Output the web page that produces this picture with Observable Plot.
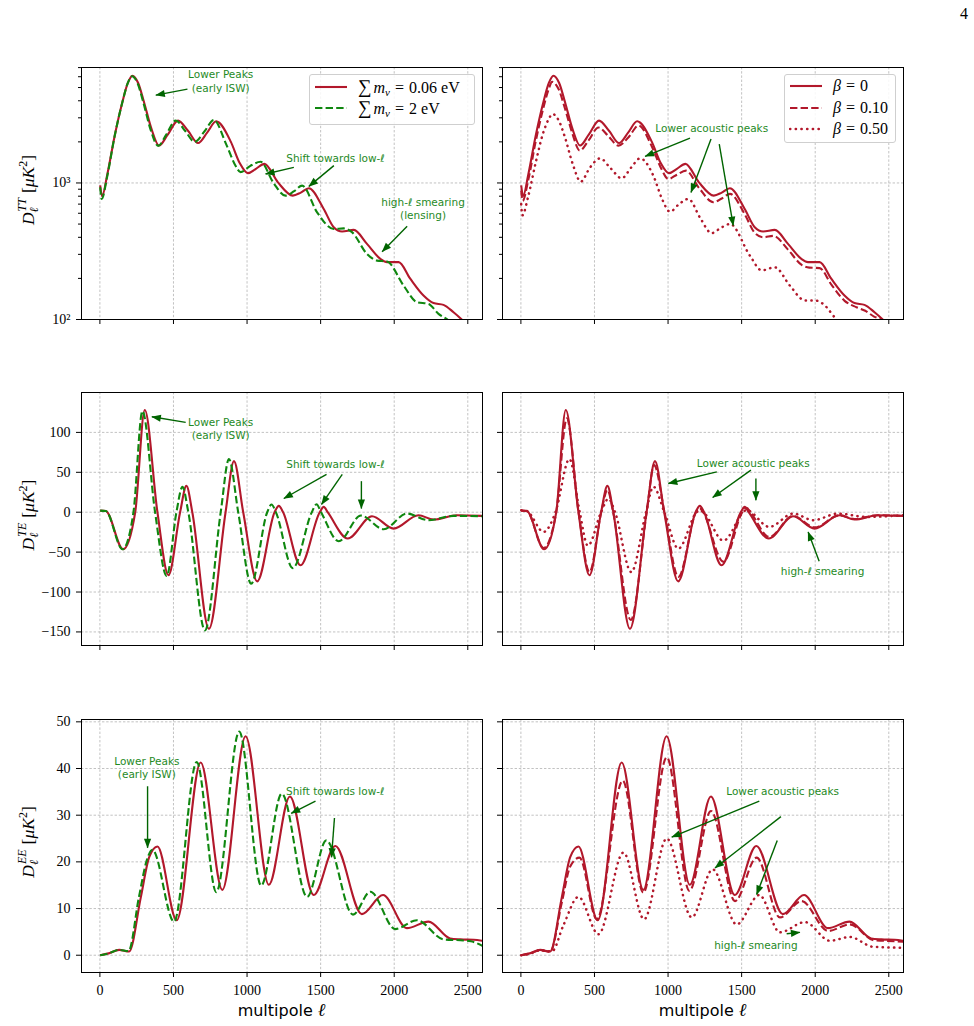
<!DOCTYPE html>
<html>
<head>
<meta charset="utf-8">
<script src="https://cdn.jsdelivr.net/npm/d3@7"></script>
<script src="https://cdn.jsdelivr.net/npm/@observablehq/plot@0.6"></script>
<style>
  body { margin: 0; background: #fff; }
  #page { position: relative; width: 974px; height: 1026px; background: #fff; overflow: hidden; }
  .panel { position: absolute; }
  .legend { position: absolute; box-sizing: border-box; background: rgba(255,255,255,0.85);
            border: 1px solid #cfcfcf; border-radius: 3px;
            font-family: "Liberation Serif", "DejaVu Serif", serif; font-size: 16px; color: #000; }
  .legend .row { position: absolute; left: 4px; height: 18px; display: flex; align-items: center; white-space: nowrap; }
  .legend sub { font-size: 11px; vertical-align: -3px; }
  .legend .sum { font-size: 19px; margin-right: 2px; }
  .legend .eq { margin: 0 5px; }
  .pageno { position: absolute; right: 6px; top: 5px; font-family: "Liberation Serif", serif; font-size: 16px; }
</style>
</head>
<body>
<div id="page"><div class="pageno">4</div></div>
<script>
// ---------------- temperature spectrum D_ell^TT [muK^2] ----------------
const ttEllBase = [2, 15, 50, 100, 150, 190, 221, 260, 300, 350, 402, 460, 531, 600, 667, 730, 790, 890, 950, 1006, 1060, 1118, 1210, 1311, 1365, 1420, 1521, 1589, 1646, 1725, 1815, 1906, 1951, 2030, 2109, 2199, 2267, 2335, 2403, 2459, 2520, 2600];
const ttBase    = [960, 800, 1150, 2200, 3800, 5400, 6100, 5400, 3900, 2500, 1880, 2250, 2860, 2400, 1960, 2350, 2830, 2000, 1400, 1180, 1270, 1380, 1010, 808, 850, 915, 645, 474, 441, 453, 358, 278, 263, 263, 199, 150, 132, 128, 113, 100, 86, 75];

const ttEllHeavy = [2, 12, 50, 100, 150, 190, 218, 255, 295, 345, 396, 450, 515, 580, 644, 710, 775, 860, 920, 956, 1020, 1092, 1180, 1261, 1320, 1374, 1476, 1589, 1657, 1713, 1815, 1883, 1951, 2064, 2154, 2233, 2301, 2362, 2430, 2500];
const ttHeavy    = [930, 765, 1120, 2200, 3800, 5400, 6050, 5400, 3900, 2450, 1870, 2250, 2870, 2400, 2000, 2380, 2890, 1900, 1350, 1200, 1330, 1430, 1000, 808, 870, 956, 610, 460, 465, 436, 302, 270, 266, 177, 134, 130, 110, 100, 87, 78];

const ttEllB10 = [2, 12, 50, 100, 150, 190, 212, 255, 300, 350, 400, 460, 527, 595, 663, 730, 799, 890, 950, 1002, 1060, 1122, 1210, 1308, 1365, 1421, 1521, 1590, 1647, 1715, 1815, 1910, 1960, 2030, 2110, 2200, 2280, 2340, 2400, 2450, 2520, 2600];
const ttB10    = [880, 740, 1050, 2000, 3450, 4900, 5500, 4900, 3500, 2300, 1725, 2050, 2550, 2200, 1876, 2150, 2630, 1850, 1300, 1070, 1150, 1231, 920, 723, 770, 832, 590, 430, 400, 410, 325, 250, 240, 238, 180, 137, 123, 116, 105, 100, 87, 76];

const ttEllB50 = [2, 10, 50, 100, 150, 190, 215, 255, 300, 350, 407, 470, 538, 610, 685, 750, 810, 900, 960, 1013, 1075, 1138, 1220, 1296, 1360, 1421, 1556, 1636, 1726, 1828, 1930, 1998, 2054, 2145, 2200, 2300];
const ttB50    = [700, 580, 800, 1400, 2300, 2950, 3200, 2900, 2150, 1400, 1023, 1300, 1515, 1280, 1082, 1300, 1515, 1131, 760, 616, 700, 764, 550, 429, 470, 501, 294, 229, 241, 177, 138, 138, 130, 100, 88, 75];

// ---------------- cross spectrum D_ell^TE [muK^2] ----------------
const teEllBase = [2, 40, 158, 240, 305, 391, 466, 545, 588, 628, 741, 854, 911, 974, 1069, 1187, 1216, 1245, 1363, 1494, 1521, 1548, 1684, 1849, 1996, 2165, 2267, 2425, 2600];
const teBase    = [2, 1.5, -46.4, 0, 128, 0, -79, 0, 33, 0, -146, 0, 64, 0, -86.6, 0, 8, 0, -66.5, 0, 6.7, 0, -33, -5, -20.5, -3.8, -9.2, -3.8, -4.6];

const teEllHeavy = [2, 40, 154, 228, 289, 375, 454, 520, 561, 601, 714, 821, 877, 940, 1028, 1137, 1166, 1196, 1311, 1440, 1472, 1503, 1623, 1774, 1928, 2086, 2233, 2403, 2600];
const teHeavy    = [2, 1.5, -46.4, 0, 126.8, 0, -80, 0, 31.8, 0, -148, 0, 66.5, 0, -89.5, 0, 9.6, 0, -70, 0, 10, 0, -36.4, -4.2, -21.3, -1.7, -10, -4.6, -5];

const teEllB10 = [2, 40, 154, 240, 312, 392, 466, 546, 588, 627, 747, 855, 905, 976, 1070, 1190, 1213, 1238, 1376, 1505, 1534, 1560, 1688, 1849, 1996, 2165, 2267, 2425, 2600];
const teB10    = [2, 1.5, -44.8, 0, 117.6, 0, -75, 0, 28, 0, -135, 0, 59, 0, -81, 0, 5.4, 0, -62, 0, 5.4, 0, -31, -4.5, -19, -3.8, -8.5, -3.8, -4.6];

const teEllB50 = [2, 40, 154, 235, 330, 400, 455, 545, 595, 640, 750, 850, 900, 975, 1070, 1195, 1217, 1240, 1376, 1534, 1688, 1851, 1986, 2156, 2348, 2597];
const teB50    = [2.5, 1.5, -24.7, 0, 66.5, 0, -42, 0, 17, 0, -75, 0, 32, 0, -45.6, 0, 2.5, 0, -35.6, 2.5, -18.4, -1.7, -10, -1.7, -5.9, -3.8];

// ---------------- polarisation spectrum D_ell^EE [muK^2] ----------------
const eeEllBase = [2, 60, 131, 199, 278, 335, 391, 522, 685, 832, 990, 1148, 1291, 1453, 1600, 1780, 1924, 2086, 2233, 2380, 2450, 2540, 2600];
const eeBase    = [0, 0.4, 1.15, 0.8, 12.4, 21, 23.3, 7.5, 41.3, 14, 46.9, 15.1, 34, 12.9, 23.4, 8.8, 12.9, 5.8, 7.2, 3.6, 3.4, 3.3, 3.1];

const eeEllHeavy = [2, 60, 131, 195, 265, 320, 357, 504, 658, 791, 947, 1096, 1236, 1408, 1539, 1720, 1838, 2007, 2154, 2335, 2450, 2520, 2600];
const eeHeavy    = [0, 0.4, 1.15, 0.9, 12.4, 20.5, 22.6, 7.2, 41.4, 13.5, 47.9, 14.9, 34.6, 12.5, 24.6, 8.7, 13.6, 5.6, 7.5, 3.4, 3.2, 3.0, 2.0];

const eeEllB10 = [2, 60, 131, 199, 278, 335, 398, 516, 692, 832, 991, 1145, 1292, 1455, 1602, 1760, 1907, 2088, 2235, 2400, 2461, 2600];
const eeB10    = [0, 0.35, 1.05, 0.75, 11.3, 19, 20.9, 7.7, 37.4, 13.4, 42.4, 13.8, 30.9, 11.6, 20.9, 8.1, 11.6, 5.2, 6.6, 3.2, 3.1, 2.9];

const eeEllB50 = [2, 60, 131, 210, 290, 391, 527, 697, 837, 991, 1161, 1303, 1466, 1620, 1760, 1930, 2100, 2235, 2394, 2597];
const eeB50    = [0, 0.3, 1.07, 0.8, 6.5, 12.5, 4.5, 22, 7.7, 25, 8.1, 18.4, 6.6, 12.9, 4.9, 7.1, 3.1, 3.9, 1.8, 1.6];

// ---------------- axes ----------------
const ellDomain = [-125, 2600];
const ellTicks = [0, 500, 1000, 1500, 2000, 2500];
const ttTicks = [100, 1000];
const ttMinor = [200, 300, 400, 500, 600, 700, 800, 900, 2000, 3000, 4000, 5000, 6000, 7000];
const teTicks = [-150, -100, -50, 0, 50, 100];
const eeTicks = [0, 10, 20, 30, 40, 50];

// ---------------- styling ----------------
const RED = "#b2182b";
const GREEN = "#0f870f";
const NOTE = "#1f8a1f";
const ARROW = "#006400";
const SERIF = '"Liberation Serif", "DejaVu Serif", serif';
const SANS = '"DejaVu Sans", sans-serif';
const DASH = "7.4,3.2";
const DOT = "0.3,5.4";

const rows = (ells, vals) => ells.map((l, i) => ({l, v: vals[i]}));

// filled triangular arrow head, tip on the end of the link
function solidHead(color, context) {
  const ns = "http://www.w3.org/2000/svg";
  const doc = context && context.document ? context.document : document;
  const m = doc.createElementNS(ns, "marker");
  m.setAttribute("viewBox", "-9 -4 9 8");
  m.setAttribute("markerWidth", 9);
  m.setAttribute("markerHeight", 8);
  m.setAttribute("markerUnits", "userSpaceOnUse");
  m.setAttribute("orient", "auto");
  m.setAttribute("overflow", "visible");
  const p = doc.createElementNS(ns, "path");
  p.setAttribute("d", "M-9,-3.6L0.5,0L-9,3.6Z");
  p.setAttribute("fill", color);
  p.setAttribute("stroke", "none");
  m.appendChild(p);
  return m;
}
let HEAD = solidHead;
try {
  Plot.plot({marks: [Plot.link([{}], {x1: () => 0, x2: () => 1, y1: () => 0, y2: () => 1, markerEnd: solidHead})]});
} catch (e) { HEAD = "arrow"; }

const fmtSigned = d => (d < 0 ? "\u2212" + (-d) : String(d));
const fmtPow = d => (d === 100 ? "10\u00b2" : "10\u00b3");

const page = d3.select("#page");

function panel(cfg) {
  const {left, top, width, height, mL, mR, mT, mB, y, yTicks, yMinor, yFormat, showY, showX,
         lines, notes, arrows} = cfg;
  const grid = {stroke: "#b3b3b3", strokeOpacity: 1, strokeDasharray: "2.4,1.8", strokeWidth: 0.8};
  const marks = [
    Plot.gridX({ticks: ellTicks, ...grid}),
    Plot.gridY({ticks: yTicks, ...grid}),
    ...lines.map(s => Plot.line(s.data, {
      x: "l", y: "v", stroke: s.stroke, strokeWidth: s.dot ? 2.5 : 2.1,
      strokeDasharray: s.dash, strokeLinecap: s.dot ? "round" : "butt",
      curve: "monotone-x", clip: true
    })),
    Plot.link(arrows, {x1: "l1", y1: "v1", x2: "l2", y2: "v2", stroke: ARROW, strokeWidth: 1.4,
                       markerEnd: HEAD}),
    Plot.text(notes, {x: "l", y: "v", text: "t", fill: NOTE, fontFamily: SANS, fontSize: 10.5,
                      lineHeight: 1.25, textAnchor: "middle"}),
    Plot.frame({stroke: "#000", strokeWidth: 1}),
    Plot.axisX({ticks: ellTicks, tickSize: 5, tickPadding: 7.5, label: null,
                tickFormat: showX ? (d => String(d)) : (() => ""), fontSize: 14, fontFamily: SERIF}),
    Plot.axisY({ticks: yTicks, tickSize: 5, tickPadding: 6, label: null,
                tickFormat: showY ? yFormat : (() => ""), fontSize: 14, fontFamily: SERIF})
  ];
  if (yMinor) marks.push(Plot.axisY({ticks: yMinor, tickSize: 3, label: null, tickFormat: () => ""}));
  const svg = Plot.plot({
    width, height, marginLeft: mL, marginRight: mR, marginTop: mT, marginBottom: mB,
    style: {fontFamily: SERIF, fontSize: "14px", background: "transparent", color: "#000", overflow: "visible"},
    x: {domain: ellDomain},
    y,
    marks
  });
  const holder = page.append("div").attr("class", "panel")
    .style("left", left + "px").style("top", top + "px");
  holder.node().appendChild(svg);
  return d3.select(svg);
}

// y-axis label  D_ell^{XY} [muK^2], rotated
function yLabel(svg, x, y, spec) {
  const t = svg.append("text")
    .attr("transform", `translate(${x},${y}) rotate(-90)`)
    .attr("text-anchor", "middle")
    .style("font-family", SERIF).style("font-size", "17.5px").attr("fill", "#000");
  t.append("tspan").style("font-style", "italic").text("D");
  t.append("tspan").attr("dy", 4).style("font-size", "12px").style("font-style", "italic").text("\u2113");
  t.append("tspan").attr("dx", -4).attr("dy", -12).style("font-size", "12px").style("font-style", "italic").text(spec);
  t.append("tspan").attr("dy", 8).attr("dx", 5).text("[");
  t.append("tspan").style("font-style", "italic").text("\u03bcK");
  t.append("tspan").attr("dy", -7).style("font-size", "12px").text("2");
  t.append("tspan").attr("dy", 7).text("]");
}

function xLabel(svg, x, y) {
  const t = svg.append("text").attr("x", x).attr("y", y).attr("text-anchor", "middle")
    .style("font-family", SANS).style("font-size", "16px").attr("fill", "#000");
  t.append("tspan").text("multipole ");
  t.append("tspan").style("font-family", SERIF).style("font-style", "italic").style("font-size", "18px").text("\u2113");
}

function legend(x, y, w, h, items) {
  const box = page.append("div").attr("class", "legend")
    .style("left", x + "px").style("top", y + "px").style("width", w + "px").style("height", h + "px");
  for (const it of items) {
    const row = box.append("div").attr("class", "row").style("top", (it.cy - y - 10) + "px");
    const s = row.append("svg").attr("width", 34).attr("height", 18);
    s.append("line").attr("x1", 1).attr("x2", 33).attr("y1", 9).attr("y2", 9)
      .attr("stroke", it.stroke).attr("stroke-width", it.dot ? 2.5 : 2.1)
      .attr("stroke-linecap", it.dot ? "round" : "butt")
      .attr("stroke-dasharray", it.dash || null);
    row.append("span").style("margin-left", "10px").html(it.html);
  }
}

// ---------------- geometry ----------------
const L = {left: 0, width: 490, mL: 81, mR: 8};
const R = {left: 490, width: 484, mL: 12, mR: 71};
const rowsGeom = [
  {top: 48, height: 291, mT: 19, mB: 20},
  {top: 372, height: 293, mT: 20, mB: 20},
  {top: 698, height: 328, mT: 21, mB: 54}
];

const ttY = {type: "log", domain: [100, 7010]};
const teY = {domain: [-167, 150]};
const eeY = {domain: [-3.7, 50.5]};

// ---------------- TT ----------------
const ttNotesL = [
  {l: 821, v: 5600, t: "Lower Peaks\n(early ISW)"},
  {l: 1601, v: 1540, t: "Shift towards low-\u2113"},
  {l: 2196, v: 651, t: "high-\u2113 smearing\n(lensing)"}
];
const ttArrowsL = [
  {l1: 595, v1: 4870, l2: 380, v2: 4400},
  {l1: 1318, v1: 1300, l2: 1126, v2: 1164},
  {l1: 1590, v1: 1339, l2: 1420, v2: 944},
  {l1: 2088, v1: 482, l2: 1918, v2: 314}
];
const svgTTL = panel({...L, ...rowsGeom[0], y: ttY, yTicks: ttTicks, yMinor: ttMinor, yFormat: fmtPow,
  showY: true, showX: false,
  lines: [
    {data: rows(ttEllBase, ttBase), stroke: RED},
    {data: rows(ttEllHeavy, ttHeavy), stroke: GREEN, dash: DASH}
  ],
  notes: ttNotesL, arrows: ttArrowsL});
yLabel(svgTTL, 34, 19 + 123, "TT");

const ttNotesR = [{l: 1297, v: 2523, t: "Lower acoustic peaks"}];
const ttArrowsR = [
  {l1: 1149, v1: 2133, l2: 844, v2: 1566},
  {l1: 1292, v1: 2099, l2: 1156, v2: 853},
  {l1: 1348, v1: 1929, l2: 1443, v2: 487}
];
panel({...R, ...rowsGeom[0], y: ttY, yTicks: ttTicks, yMinor: ttMinor, yFormat: fmtPow,
  showY: false, showX: false,
  lines: [
    {data: rows(ttEllBase, ttBase), stroke: RED},
    {data: rows(ttEllB10, ttB10), stroke: RED, dash: DASH},
    {data: rows(ttEllB50, ttB50), stroke: RED, dash: DOT, dot: true}
  ],
  notes: ttNotesR, arrows: ttArrowsR});

// ---------------- TE ----------------
const teNotesL = [
  {l: 821, v: 105.4, t: "Lower Peaks\n(early ISW)"},
  {l: 1601, v: 61, t: "Shift towards low-\u2113"}
];
const teArrowsL = [
  {l1: 583, v1: 112.5, l2: 353, v2: 119.6},
  {l1: 1540, v1: 47.3, l2: 1250, v2: 17.2},
  {l1: 1647, v1: 47.3, l2: 1506, v2: 9.7},
  {l1: 1777, v1: 38.9, l2: 1777, v2: 4.6}
];
const svgTEL = panel({...L, ...rowsGeom[1], y: teY, yTicks: teTicks, yFormat: fmtSigned,
  showY: true, showX: false,
  lines: [
    {data: rows(teEllBase, teBase), stroke: RED},
    {data: rows(teEllHeavy, teHeavy), stroke: GREEN, dash: DASH}
  ],
  notes: teNotesL, arrows: teArrowsL});
yLabel(svgTEL, 34, 20 + 123, "TE");

const teNotesR = [
  {l: 1579, v: 62.4, t: "Lower acoustic peaks"},
  {l: 2050, v: -74, t: "high-\u2113 smearing"}
];
const teArrowsR = [
  {l1: 1331, v1: 50.6, l2: 1002, v2: 36},
  {l1: 1563, v1: 52.7, l2: 1303, v2: 18.4},
  {l1: 1597, v1: 42.3, l2: 1597, v2: 15},
  {l1: 2027, v1: -61.5, l2: 1952, v2: -24.7}
];
panel({...R, ...rowsGeom[1], y: teY, yTicks: teTicks, yFormat: fmtSigned,
  showY: false, showX: false,
  lines: [
    {data: rows(teEllBase, teBase), stroke: RED},
    {data: rows(teEllB10, teB10), stroke: RED, dash: DASH},
    {data: rows(teEllB50, teB50), stroke: RED, dash: DOT, dot: true}
  ],
  notes: teNotesR, arrows: teArrowsR});

// ---------------- EE ----------------
const eeNotesL = [
  {l: 319, v: 40.3, t: "Lower Peaks\n(early ISW)"},
  {l: 1599, v: 35.3, t: "Shift towards low-\u2113"}
];
const eeArrowsL = [
  {l1: 324, v1: 36.2, l2: 324, v2: 23},
  {l1: 1465, v1: 33, l2: 1300, v2: 30.4},
  {l1: 1594, v1: 29.4, l2: 1574, v2: 21}
];
const svgEEL = panel({...L, ...rowsGeom[2], y: eeY, yTicks: eeTicks, yFormat: fmtSigned,
  showY: true, showX: true,
  lines: [
    {data: rows(eeEllBase, eeBase), stroke: RED},
    {data: rows(eeEllHeavy, eeHeavy), stroke: GREEN, dash: DASH}
  ],
  notes: eeNotesL, arrows: eeArrowsL});
yLabel(svgEEL, 34, 21 + 123, "EE");
xLabel(svgEEL, 81 + 200.5, 318);

const eeNotesR = [
  {l: 1779, v: 35.3, t: "Lower acoustic peaks"},
  {l: 1597, v: 2.2, t: "high-\u2113 smearing"}
];
const eeArrowsR = [
  {l1: 1620, v1: 33, l2: 1025, v2: 25.3},
  {l1: 1767, v1: 29.7, l2: 1319, v2: 18.7},
  {l1: 1742, v1: 24.6, l2: 1602, v2: 13},
  {l1: 1806, v1: 4.6, l2: 1896, v2: 4.9}
];
const svgEER = panel({...R, ...rowsGeom[2], y: eeY, yTicks: eeTicks, yFormat: fmtSigned,
  showY: false, showX: true,
  lines: [
    {data: rows(eeEllBase, eeBase), stroke: RED},
    {data: rows(eeEllB10, eeB10), stroke: RED, dash: DASH},
    {data: rows(eeEllB50, eeB50), stroke: RED, dash: DOT, dot: true}
  ],
  notes: eeNotesR, arrows: eeArrowsR});
xLabel(svgEER, 12 + 200.5, 318);

// ---------------- legends ----------------
const sumLabel = v => `<span class="sum">\u2211</span><i>m</i><sub><i>\u03bd</i></sub><span class="eq">=</span>${v}`;
const betaLabel = v => `<i>\u03b2</i><span class="eq">=</span>${v}`;
legend(309, 74, 166, 51, [
  {stroke: RED, cy: 86.7, html: sumLabel("0.06 eV")},
  {stroke: GREEN, dash: DASH, cy: 108.3, html: sumLabel("2 eV")}
]);
legend(784, 74, 112, 69, [
  {stroke: RED, cy: 85.7, html: betaLabel("0")},
  {stroke: RED, dash: DASH, cy: 107.7, html: betaLabel("0.10")},
  {stroke: RED, dash: DOT, dot: true, cy: 129, html: betaLabel("0.50")}
]);
</script>
</body>
</html>
